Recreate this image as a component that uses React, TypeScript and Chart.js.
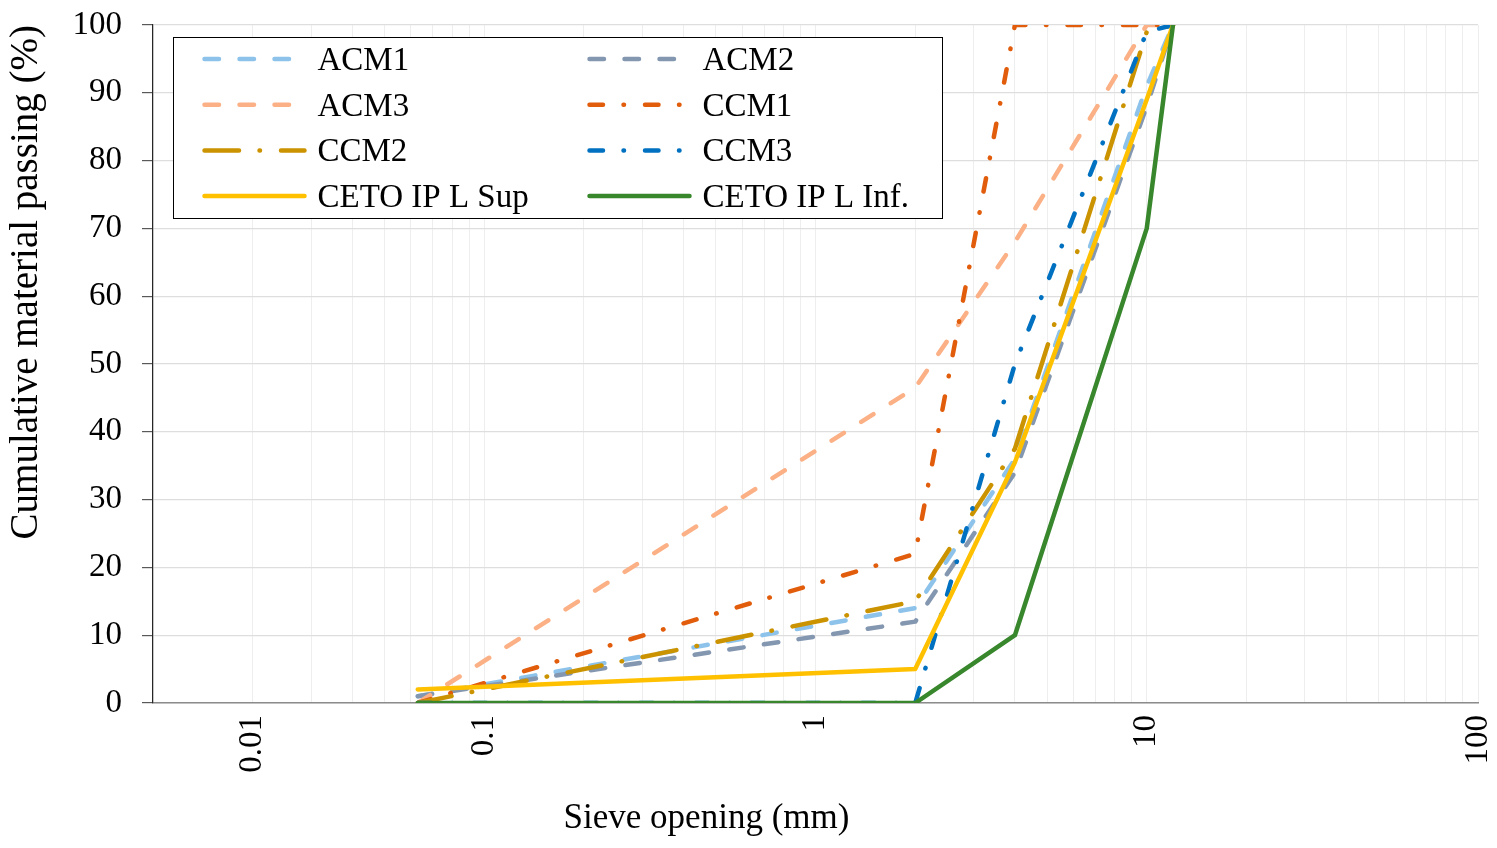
import React, { useEffect, useRef } from "react";
import { Chart, registerables } from "chart.js";

Chart.register(...registerables);

// Sieve openings (mm)
const sieves = [0.063, 2, 4, 10, 12];

// Cumulative passing (%) per series
const acm1 = [1, 14, 36, 91, 100];
const acm2 = [1, 12, 34, 88, 100];
const acm3 = [0, 46.5, 68, 100, 100];
const ccm1 = [0, 22, 100, 100, 100];
const ccm2 = [0, 15, 37.5, 99, 100];
const ccm3 = [0, 0, 50, 99, 100];
const cetoSup = [2, 5, 35.5, 89, 100];
const cetoInf = [0, 0, 10, 70, 100];

const seriesLabels = ["ACM1", "ACM2", "ACM3", "CCM1", "CCM2", "CCM3", "CETO IP L Sup", "CETO IP L Inf."];

// x tick values (decades and their minor steps) and labels
const xTickValues: number[] = [];
[0.01, 0.1, 1, 10].forEach((d) => {
  for (let m = 1; m <= 9; m++) xTickValues.push(+(m * d).toPrecision(3));
});
xTickValues.push(100);
const xLabelMap: [number, string][] = [
  [0.02, "0.01"],
  [0.1, "0.1"],
  [1, "1"],
  [10, "10"],
  [100, "100"],
];

const FONT = "'Liberation Serif', 'Times New Roman', serif";

const DASH = [14.5, 20.5];
const DASH_DOT = [13.5, 20.5, 0.5, 21];
const LONG_DASH_DOT = [34.5, 20.5, 0.5, 21];

const styles = [
  { color: "#8DC3EA", dash: DASH },
  { color: "#8497B0", dash: DASH },
  { color: "#FBB085", dash: DASH },
  { color: "#E15D0C", dash: DASH_DOT },
  { color: "#CC9300", dash: LONG_DASH_DOT },
  { color: "#0070C0", dash: DASH_DOT },
  { color: "#FFC000", dash: [] as number[] },
  { color: "#38872D", dash: [] as number[] },
];

const seriesValues = [acm1, acm2, acm3, ccm1, ccm2, ccm3, cetoSup, cetoInf];

const boxLegend = {
  id: "boxLegend",
  afterDatasetsDraw(chart: any) {
    const { ctx, chartArea } = chart;
    const x0 = Math.round(chartArea.left + 20) + 0.5;
    const y0 = Math.round(chartArea.top + 12) + 0.5;
    const w = 769;
    const h = 181;
    ctx.save();
    ctx.fillStyle = "#ffffff";
    ctx.fillRect(x0, y0, w, h);
    ctx.strokeStyle = "#000000";
    ctx.lineWidth = 1;
    ctx.setLineDash([]);
    ctx.strokeRect(x0, y0, w, h);
    chart.data.datasets.forEach((ds: any, i: number) => {
      const col = i % 2;
      const row = Math.floor(i / 2);
      const sx = x0 + 31 + col * 385;
      const cy = y0 + 21.5 + row * 45.7;
      ctx.beginPath();
      ctx.setLineDash(ds.borderDash || []);
      ctx.lineCap = "round";
      ctx.lineWidth = ds.borderWidth;
      ctx.strokeStyle = ds.borderColor;
      ctx.moveTo(sx, cy);
      ctx.lineTo(sx + 100, cy);
      ctx.stroke();
      ctx.setLineDash([]);
      ctx.fillStyle = "#000000";
      ctx.font = `33px ${FONT}`;
      ctx.textAlign = "left";
      ctx.textBaseline = "alphabetic";
      ctx.fillText(ds.label, sx + 113, cy + 11);
    });
    ctx.restore();
  },
};

const xTitle = {
  id: "xTitle",
  afterDraw(chart: any) {
    const { ctx, chartArea } = chart;
    ctx.save();
    ctx.fillStyle = "#000000";
    ctx.font = `35px ${FONT}`;
    ctx.textAlign = "center";
    ctx.textBaseline = "middle";
    ctx.fillText("Sieve opening (mm)", (chartArea.left + chartArea.right) / 2 - 109, chartArea.bottom + 116);
    ctx.restore();
  },
};

export default function App() {
  const ref = useRef<HTMLCanvasElement | null>(null);

  useEffect(() => {
    if (!ref.current) return;
    Chart.defaults.font.family = FONT;
    Chart.defaults.color = "#000000";
    const n = seriesLabels.length;
    const chart = new Chart(ref.current, {
      type: "line",
      data: {
        datasets: seriesLabels.map((label, i) => ({
          label,
          data: sieves.map((x, k) => ({ x, y: seriesValues[i][k] })),
          borderColor: styles[i].color,
          backgroundColor: styles[i].color,
          borderDash: styles[i].dash,
          borderWidth: 4.5,
          borderCapStyle: "round",
          borderJoinStyle: "round",
          pointRadius: 0,
          pointHoverRadius: 0,
          tension: 0,
          fill: false,
          order: n - i,
        })) as any,
      },
      options: {
        animation: false,
        responsive: false,
        devicePixelRatio: 1,
        layout: { padding: { top: 25, right: 19, left: 0, bottom: 0 } },
        plugins: {
          legend: { display: false },
          tooltip: { enabled: false },
        },
        scales: {
          x: {
            type: "logarithmic",
            min: 0.01,
            max: 100,
            afterBuildTicks: (scale: any) => {
              scale.ticks = xTickValues.map((v) => ({ value: v }));
            },
            afterFit: (scale: any) => {
              scale.height = 145;
              scale.paddingLeft = 0;
              scale.paddingRight = 0;
              scale.paddingTop = 0;
              scale.paddingBottom = 0;
            },
            ticks: {
              autoSkip: false,
              minRotation: 90,
              maxRotation: 90,
              padding: 12,
              font: { size: 33, family: FONT },
              color: "#000000",
              callback: (value: any) => {
                const v = Number(value);
                const hit = xLabelMap.find(([t]) => Math.abs(t - v) / t < 1e-6);
                return hit ? hit[1] : "";
              },
            },
            grid: {
              color: "#eeeeee",
              lineWidth: 1,
              drawTicks: false,
            },
            border: { display: true, color: "#8c8c8c", width: 1.5 },
          },
          y: {
            type: "linear",
            min: 0,
            max: 100,
            afterFit: (scale: any) => {
              scale.width = 153;
              scale.paddingLeft = 0;
              scale.paddingRight = 0;
              scale.paddingTop = 0;
              scale.paddingBottom = 0;
            },
            ticks: {
              stepSize: 10,
              padding: 20,
              font: { size: 33, family: FONT },
              color: "#000000",
            },
            grid: {
              color: "#dedede",
              lineWidth: 1.2,
              drawTicks: true,
              tickLength: 11,
              tickColor: "#595959",
            },
            border: { display: true, color: "#262626", width: 1.2 },
            title: {
              display: true,
              text: "Cumulative material passing (%)",
              align: "end",
              color: "#000000",
              font: { size: 39, family: FONT },
              padding: { top: 3, bottom: 0 },
            },
          },
        },
      },
      plugins: [boxLegend, xTitle],
    });
    return () => chart.destroy();
  }, []);

  return (
    <div style={{ position: "fixed", left: 0, top: 0, width: 1497, height: 848, background: "#ffffff" }}>
      <canvas ref={ref} width={1497} height={848} style={{ width: 1497, height: 848, display: "block" }} />
    </div>
  );
}
